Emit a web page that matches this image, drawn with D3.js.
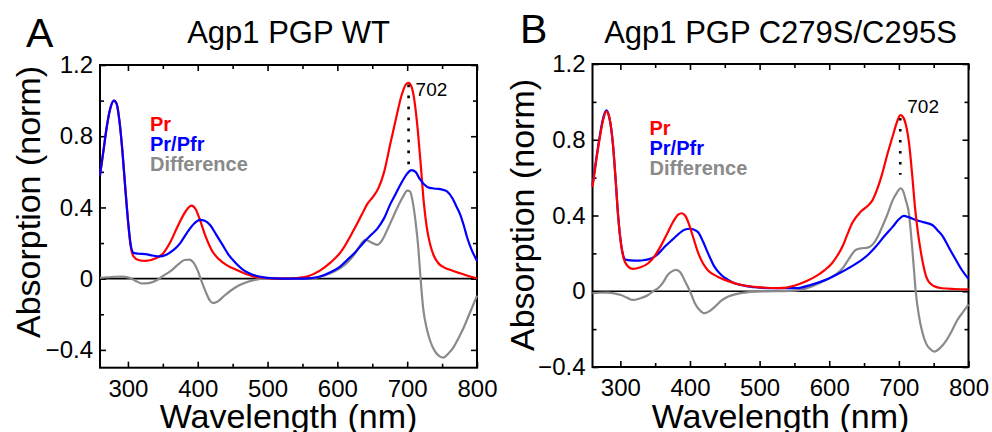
<!DOCTYPE html>
<html>
<head>
<meta charset="utf-8">
<script src="https://cdn.jsdelivr.net/npm/d3@7"></script>
<style>
  body { margin: 0; background: #fff; }
  svg text { font-family: "Liberation Sans", Arial, sans-serif; fill: #000; }
</style>
</head>
<body>
<div id="chart"></div>
<script>
// absorption spectra, [wavelength nm, absorbance (norm)]

// panel A: Agp1 PGP WT
const wtPr = [
  [260, 0.58], [265, 0.72], [270, 0.86], [275, 0.96], [280, 1.0], [284, 0.98], [288, 0.88],
  [292, 0.72], [296, 0.52], [300, 0.33], [304, 0.18], [308, 0.125], [315, 0.105], [325, 0.10],
  [340, 0.115], [350, 0.14], [360, 0.2], [372, 0.30], [383, 0.38], [391, 0.41], [397, 0.39],
  [404, 0.32], [411, 0.24], [420, 0.16], [430, 0.11], [442, 0.075], [455, 0.05], [470, 0.025],
  [482, 0.01], [500, 0.003], [520, 0.0], [540, 0.003], [555, 0.01], [575, 0.045], [590, 0.09],
  [605, 0.15], [623, 0.27], [635, 0.36], [643, 0.42], [651, 0.46], [659, 0.51], [667, 0.6],
  [676, 0.76], [684, 0.9], [692, 1.03], [698, 1.09], [702, 1.1], [706, 1.08], [710, 1.01],
  [714, 0.88], [719, 0.66], [724, 0.42], [728, 0.29], [733, 0.19], [738, 0.13], [745, 0.085],
  [752, 0.065], [765, 0.045], [776, 0.03], [790, 0.012], [800, 0.002]
];
const wtPrPfr = [
  [260, 0.58], [265, 0.72], [270, 0.86], [275, 0.96], [280, 1.0], [284, 0.98], [288, 0.88],
  [292, 0.72], [296, 0.52], [300, 0.33], [304, 0.19], [308, 0.145], [315, 0.14], [325, 0.138],
  [335, 0.13], [345, 0.125], [355, 0.135], [365, 0.16], [375, 0.2], [385, 0.26], [395, 0.31],
  [403, 0.33], [410, 0.325], [418, 0.3], [426, 0.25], [434, 0.2], [444, 0.135], [454, 0.09],
  [465, 0.05], [477, 0.025], [490, 0.01], [500, 0.004], [520, 0.0], [545, 0.0], [562, 0.003],
  [575, 0.012], [590, 0.036], [603, 0.065], [614, 0.105], [626, 0.15], [638, 0.205],
  [648, 0.245], [657, 0.28], [667, 0.34], [676, 0.42], [684, 0.48], [692, 0.54], [700, 0.59],
  [706, 0.61], [712, 0.6], [718, 0.56], [724, 0.53], [732, 0.51], [742, 0.505], [750, 0.5],
  [757, 0.49], [765, 0.45], [770, 0.41], [776, 0.36], [781, 0.3], [786, 0.23], [792, 0.165],
  [800, 0.1]
];
const wtDiff = [
  [260, 0.005], [270, 0.008], [280, 0.01], [290, 0.012], [296, 0.01], [302, 0.005], [310, -0.01],
  [320, -0.027], [330, -0.025], [343, -0.005], [352, 0.02], [362, 0.045], [372, 0.08],
  [381, 0.105], [388, 0.107], [394, 0.09], [400, 0.045], [405, -0.01], [411, -0.07],
  [417, -0.12], [422, -0.137], [428, -0.13], [438, -0.096], [448, -0.065], [458, -0.04],
  [470, -0.02], [482, -0.007], [495, 0], [520, 0], [560, 0.002], [590, 0.03], [614, 0.09],
  [625, 0.14], [633, 0.19], [640, 0.218], [648, 0.205], [657, 0.19], [664, 0.215], [671, 0.27],
  [678, 0.33], [686, 0.40], [694, 0.46], [700, 0.495], [704, 0.49], [708, 0.43], [712, 0.32],
  [716, 0.17], [719, 0.01], [723, -0.17], [728, -0.28], [733, -0.35], [740, -0.41],
  [746, -0.435], [752, -0.443], [759, -0.42], [766, -0.387], [774, -0.33], [781, -0.274],
  [790, -0.19], [800, -0.095]
];

// panel B: Agp1 PGP C279S/C295S
const mutPr = [
  [260, 0.55], [265, 0.68], [270, 0.80], [275, 0.9], [280, 0.95], [284, 0.92], [289.5, 0.77],
  [293, 0.6], [297, 0.39], [301.5, 0.235], [305, 0.17], [309, 0.14], [318, 0.118], [328, 0.125],
  [340, 0.148], [350, 0.19], [359, 0.245], [368, 0.31], [376, 0.368], [383, 0.405], [388, 0.412],
  [393, 0.4], [398, 0.36], [405, 0.28], [412, 0.2], [419, 0.145], [426, 0.11], [438, 0.08],
  [450, 0.06], [474, 0.033], [503, 0.02], [527, 0.016], [551, 0.03], [565, 0.05], [580, 0.077],
  [593, 0.11], [604, 0.148], [612, 0.19], [619, 0.236], [626, 0.3], [633, 0.36], [645, 0.42],
  [655, 0.45], [662, 0.48], [669, 0.54], [676, 0.62], [684, 0.73], [691, 0.817], [697, 0.89],
  [702, 0.93], [706, 0.92], [710, 0.88], [715, 0.77], [719, 0.62], [723, 0.45], [727, 0.32],
  [731, 0.22], [735, 0.14], [739, 0.08], [744, 0.045], [750, 0.028], [762, 0.016], [780, 0.012],
  [800, 0.01]
];
const mutPrPfr = [
  [260, 0.56], [265, 0.69], [270, 0.81], [275, 0.91], [280, 0.955], [284, 0.92], [289.5, 0.77],
  [293, 0.6], [297, 0.39], [301, 0.25], [304, 0.19], [307, 0.168], [315, 0.163], [326, 0.162],
  [335, 0.165], [345, 0.174], [355, 0.2], [364, 0.236], [374, 0.27], [383, 0.3], [392, 0.325],
  [400, 0.33], [406, 0.325], [412, 0.31], [419, 0.26], [426, 0.2], [435, 0.13], [445, 0.086],
  [455, 0.06], [464, 0.042], [478, 0.03], [493, 0.021], [522, 0.016], [552, 0.016], [575, 0.035],
  [595, 0.06], [619, 0.104], [643, 0.156], [655, 0.19], [667, 0.236], [679, 0.29], [691, 0.34],
  [700, 0.38], [707, 0.398], [715, 0.39], [724, 0.377], [735, 0.365], [748, 0.35], [756, 0.32],
  [763, 0.29], [772, 0.23], [782, 0.165], [790, 0.115], [800, 0.065]
];
const mutDiff = [
  [260, -0.01], [270, -0.008], [282, -0.007], [292, -0.012], [301, -0.02], [310, -0.035],
  [318, -0.046], [328, -0.038], [340, -0.02], [347, 0.0], [354, 0.016], [362, 0.05], [368, 0.086],
  [374, 0.105], [380, 0.113], [386, 0.1], [392, 0.06], [400, 0.0], [407, -0.063], [414, -0.1],
  [421, -0.116], [428, -0.105], [436, -0.081], [445, -0.05], [455, -0.028], [466, -0.015],
  [479, -0.007], [495, -0.002], [520, 0], [555, 0.005], [575, 0.025], [595, 0.06], [610, 0.09],
  [619, 0.12], [628, 0.17], [638, 0.218], [647, 0.227], [655, 0.23], [662, 0.245], [670, 0.29],
  [676, 0.34], [684, 0.41], [691, 0.48], [697, 0.52], [702.6, 0.544], [706, 0.53], [710, 0.48],
  [714.5, 0.41], [717, 0.32], [719.4, 0.218], [722, 0.1], [724, 0.007], [729, -0.134],
  [734, -0.22], [739, -0.275], [745, -0.305], [751, -0.319], [759, -0.3], [767, -0.266],
  [776, -0.21], [784, -0.152], [792, -0.11], [800, -0.07]
];

// ticks and labels
const xTicks = [300, 400, 500, 600, 700, 800];
const xMinorTicks = [350, 450, 550, 650, 750];
const yTicks = [-0.4, 0, 0.4, 0.8, 1.2];
const yMinorTicks = [-0.2, 0.2, 0.6, 1.0];
const seriesNames = ["Pr", "Pr/Pfr", "Difference"];
const peakNm = 702;

const colour = d3.scaleOrdinal()
    .domain(seriesNames)
    .range(["#ff0000", "#0000ff", "#8a8a8a"]);

const svg = d3.select("#chart").append("svg")
    .attr("width", 992)
    .attr("height", 432);

svg.append("rect")
    .attr("width", 992).attr("height", 432)
    .attr("fill", "#fff");

/**
 * drawPanel - one spectrum plot with frame, inward ticks, legend and peak marker.
 */
function drawPanel(p) {
    const x = d3.scaleLinear().domain([260, 800]).range([p.left, p.right]);
    const y = d3.scaleLinear().domain(p.yDomain).range([p.bottom, p.top]);
    const g = svg.append("g");

    // axes: ticks point inward, labels only on bottom and left
    const fmt = d3.format("~g");
    const axes = [
        [d3.axisBottom(x).tickValues(xTicks).tickFormat(d3.format("d")), `translate(0,${p.bottom})`, 6, true],
        [d3.axisBottom(x).tickValues(xMinorTicks).tickFormat(""), `translate(0,${p.bottom})`, 4, false],
        [d3.axisTop(x).tickValues(xTicks).tickFormat(""), `translate(0,${p.top})`, 6, false],
        [d3.axisTop(x).tickValues(xMinorTicks).tickFormat(""), `translate(0,${p.top})`, 4, false],
        [d3.axisLeft(y).tickValues(yTicks).tickFormat(fmt), `translate(${p.left},0)`, 6, true],
        [d3.axisLeft(y).tickValues(yMinorTicks).tickFormat(""), `translate(${p.left},0)`, 4, false],
        [d3.axisRight(y).tickValues(yTicks).tickFormat(""), `translate(${p.right},0)`, 6, false],
        [d3.axisRight(y).tickValues(yMinorTicks).tickFormat(""), `translate(${p.right},0)`, 4, false]
    ];
    axes.forEach(([ax, tr, len, labelled]) => {
        const isX = tr.startsWith("translate(0");
        const ga = g.append("g")
            .attr("transform", tr)
            .call(ax.tickSizeInner(-len).tickSizeOuter(0).tickPadding(isX ? 12 : 7));
        ga.select(".domain").remove();
        ga.selectAll(".tick line").attr("stroke", "#000").attr("stroke-width", 1.6);
        ga.selectAll(".tick text")
            .attr("font-size", labelled ? 24 : 0)
            .attr("fill", "#000");
    });

    // frame
    g.append("rect")
        .attr("x", p.left).attr("y", p.top)
        .attr("width", p.right - p.left).attr("height", p.bottom - p.top)
        .attr("fill", "none")
        .attr("stroke", "#000")
        .attr("stroke-width", 2);

    // zero line
    g.append("line")
        .attr("x1", x(260)).attr("x2", x(800))
        .attr("y1", y(0)).attr("y2", y(0))
        .attr("stroke", "#000")
        .attr("stroke-width", 1.6);

    // spectra
    const line = d3.line()
        .x(d => x(d[0]))
        .y(d => y(d[1]))
        .curve(d3.curveMonotoneX);
    p.series.forEach(s => {
        g.append("path")
            .attr("d", line(s.values))
            .attr("fill", "none")
            .attr("stroke", colour(s.name))
            .attr("stroke-width", 2.2)
            .attr("stroke-linejoin", "round");
    });

    // dotted marker at the Q-band maximum
    g.append("line")
        .attr("x1", x(peakNm)).attr("x2", x(peakNm))
        .attr("y1", y(p.dot[0])).attr("y2", y(p.dot[1]))
        .attr("stroke", "#000")
        .attr("stroke-width", 2.6)
        .attr("stroke-dasharray", "2.6,8.4");
    g.append("text")
        .attr("x", x(peakNm) + 7)
        .attr("y", y(p.peakLabel))
        .attr("font-size", 19)
        .text(peakNm);

    // legend
    g.selectAll(".legend")
        .data(seriesNames)
        .enter()
        .append("text")
            .attr("x", p.left + p.legendDx)
            .attr("y", (_, i) => p.top + p.legendDy + i * 20)
            .attr("font-size", 20)
            .attr("font-weight", "bold")
            .style("fill", d => colour(d))
            .text(d => d);

    // titles and axis labels
    g.append("text")
        .attr("x", p.letterX).attr("y", p.letterY)
        .attr("font-size", 41)
        .text(p.letter);
    g.append("text")
        .attr("x", (p.left + p.right) / 2).attr("y", 43)
        .attr("text-anchor", "middle")
        .attr("font-size", 31)
        .text(p.title);
    g.append("text")
        .attr("x", (p.left + p.right) / 2).attr("y", 428)
        .attr("text-anchor", "middle")
        .attr("font-size", 34)
        .text("Wavelength (nm)");
    g.append("text")
        .attr("transform", `translate(${p.yLabelX},${p.yLabelY}) rotate(-90)`)
        .attr("text-anchor", "middle")
        .attr("font-size", 34)
        .text("Absorption (norm)");
}

drawPanel({
    left: 100, right: 477, top: 65, bottom: 367.7,
    yDomain: [-0.5, 1.2],
    series: [
        { name: "Difference", values: wtDiff },
        { name: "Pr", values: wtPr },
        { name: "Pr/Pfr", values: wtPrPfr }
    ],
    dot: [1.09, 0.61], peakLabel: 1.025,
    legendDx: 50, legendDy: 66,
    letter: "A", letterX: 26, letterY: 47,
    title: "Agp1 PGP WT",
    yLabelX: 40, yLabelY: 202
});

drawPanel({
    left: 592.5, right: 968.5, top: 64, bottom: 367,
    yDomain: [-0.4, 1.2],
    series: [
        { name: "Difference", values: mutDiff },
        { name: "Pr/Pfr", values: mutPrPfr },
        { name: "Pr", values: mutPr }
    ],
    dot: [0.915, 0.615], peakLabel: 0.942,
    legendDx: 57, legendDy: 71,
    letter: "B", letterX: 520, letterY: 43,
    title: "Agp1 PGP C279S/C295S",
    yLabelX: 534, yLabelY: 215
});
</script>
</body>
</html>
